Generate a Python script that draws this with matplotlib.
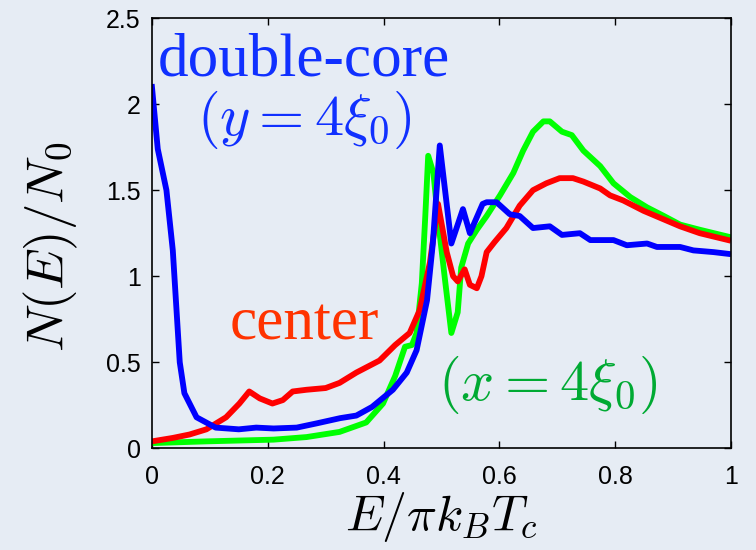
import numpy as np
import matplotlib.pyplot as plt

plt.rcParams["mathtext.fontset"] = "cm"
plt.rcParams["font.family"] = ["Liberation Sans", "DejaVu Sans"]

# double-core (y = 4 xi0), blue
e_blue = [0.0, 0.01, 0.025, 0.036, 0.048, 0.056, 0.077, 0.11, 0.15, 0.18, 0.21, 0.25,
          0.285, 0.325, 0.353, 0.38, 0.416, 0.44, 0.457, 0.475, 0.485, 0.497,
          0.517, 0.537, 0.549, 0.571, 0.578, 0.595, 0.618, 0.635, 0.658, 0.687,
          0.708, 0.739, 0.757, 0.797, 0.82, 0.855, 0.872, 0.912, 0.935, 0.97, 0.995]
n_blue = [2.10, 1.74, 1.50, 1.15, 0.50, 0.32, 0.18, 0.12, 0.11, 0.12, 0.115, 0.12,
          0.145, 0.175, 0.19, 0.24, 0.34, 0.44, 0.57, 0.86, 1.19, 1.76,
          1.19, 1.39, 1.25, 1.42, 1.43, 1.43, 1.36, 1.35, 1.28, 1.29,
          1.24, 1.25, 1.21, 1.21, 1.18, 1.19, 1.17, 1.17, 1.15, 1.14, 1.13]

# center, red
e_red = [0.0, 0.036, 0.065, 0.094, 0.128, 0.151, 0.168, 0.186, 0.208, 0.226, 0.243,
         0.267, 0.30, 0.324, 0.353, 0.393, 0.42, 0.445, 0.462, 0.48, 0.494,
         0.509, 0.52, 0.528, 0.54, 0.549, 0.561, 0.569, 0.578, 0.592, 0.612,
         0.635, 0.658, 0.681, 0.704, 0.727, 0.745, 0.774, 0.791, 0.814, 0.849,
         0.884, 0.912, 0.946, 0.995]
n_red = [0.04, 0.06, 0.08, 0.11, 0.18, 0.26, 0.33, 0.29, 0.26, 0.28, 0.33,
         0.34, 0.35, 0.38, 0.44, 0.51, 0.60, 0.67, 0.80, 1.08, 1.42,
         1.14, 1.00, 0.97, 1.04, 0.95, 0.93, 1.00, 1.14, 1.20, 1.28,
         1.41, 1.50, 1.54, 1.57, 1.57, 1.55, 1.51, 1.47, 1.44, 1.38,
         1.33, 1.29, 1.25, 1.21]

# x = 4 xi0, green
e_green = [0.0, 0.094, 0.21, 0.267, 0.324, 0.37, 0.399, 0.42, 0.437, 0.449, 0.457,
           0.466, 0.472, 0.477, 0.486, 0.494, 0.506, 0.517, 0.528, 0.534, 0.546,
           0.561, 0.578, 0.601, 0.624, 0.641, 0.658, 0.676, 0.687, 0.708, 0.725,
           0.745, 0.774, 0.797, 0.826, 0.855, 0.884, 0.912, 0.946, 0.995]
n_green = [0.03, 0.04, 0.05, 0.065, 0.095, 0.15, 0.26, 0.42, 0.59, 0.60, 0.67,
           0.96, 1.35, 1.70, 1.60, 1.33, 0.98, 0.67, 0.79, 1.05, 1.19,
           1.27, 1.35, 1.47, 1.60, 1.73, 1.84, 1.90, 1.90, 1.84, 1.82,
           1.73, 1.64, 1.54, 1.46, 1.40, 1.35, 1.30, 1.27, 1.23]

xticks = [0, 0.2, 0.4, 0.6, 0.8, 1]
xtick_labels = ["0", "0.2", "0.4", "0.6", "0.8", "1"]
yticks = [0, 0.5, 1, 1.5, 2, 2.5]
ytick_labels = ["0", "0.5", "1", "1.5", "2", "2.5"]

bg = "#e6ecf4"
fig = plt.figure(figsize=(7.56, 5.5), dpi=100, facecolor=bg)
ax = fig.add_axes([0.201, 0.185, 0.766, 0.782])
ax.set_facecolor(bg)

ax.plot(e_green, n_green, color="#00ff00", lw=4.2, solid_joinstyle="round")
ax.plot(e_red, n_red, color="#ff0000", lw=4.2, solid_joinstyle="round")
ax.plot(e_blue, n_blue, color="#0000ff", lw=4.2, solid_joinstyle="round")

ax.set_xlim(0, 1)
ax.set_ylim(0, 2.5)
ax.set_xticks(xticks)
ax.set_xticklabels(xtick_labels)
ax.set_yticks(yticks)
ax.set_yticklabels(ytick_labels)
ax.tick_params(direction="in", top=True, right=True, length=5, width=1,
               labelsize=18)
ax.tick_params(axis="x", pad=12)
ax.tick_params(axis="y", pad=8)
for s in ax.spines.values():
    s.set_linewidth(1.2)

ax.set_xlabel(r"$E/\pi k_B T_c$", fontsize=36, labelpad=1)
ax.set_ylabel(r"$N(E)/N_0$", fontsize=38)
ax.yaxis.set_label_coords(-0.125, 0.467)

ax.text(0.263, 2.25, "double-core", color="#1030ff", fontsize=44,
        family="Liberation Serif", ha="center", va="center")
ax.text(0.263, 1.91, r"$(y=4\xi_0)$", color="#1030ff", fontsize=42,
        ha="center", va="center")
ax.text(0.263, 0.72, "center", color="#ff3300", fontsize=44,
        family="Liberation Serif", ha="center", va="center")
ax.text(0.684, 0.37, r"$(x=4\xi_0)$", color="#00aa33", fontsize=42,
        ha="center", va="center")

fig.savefig("out.png", dpi=100, facecolor=bg)
